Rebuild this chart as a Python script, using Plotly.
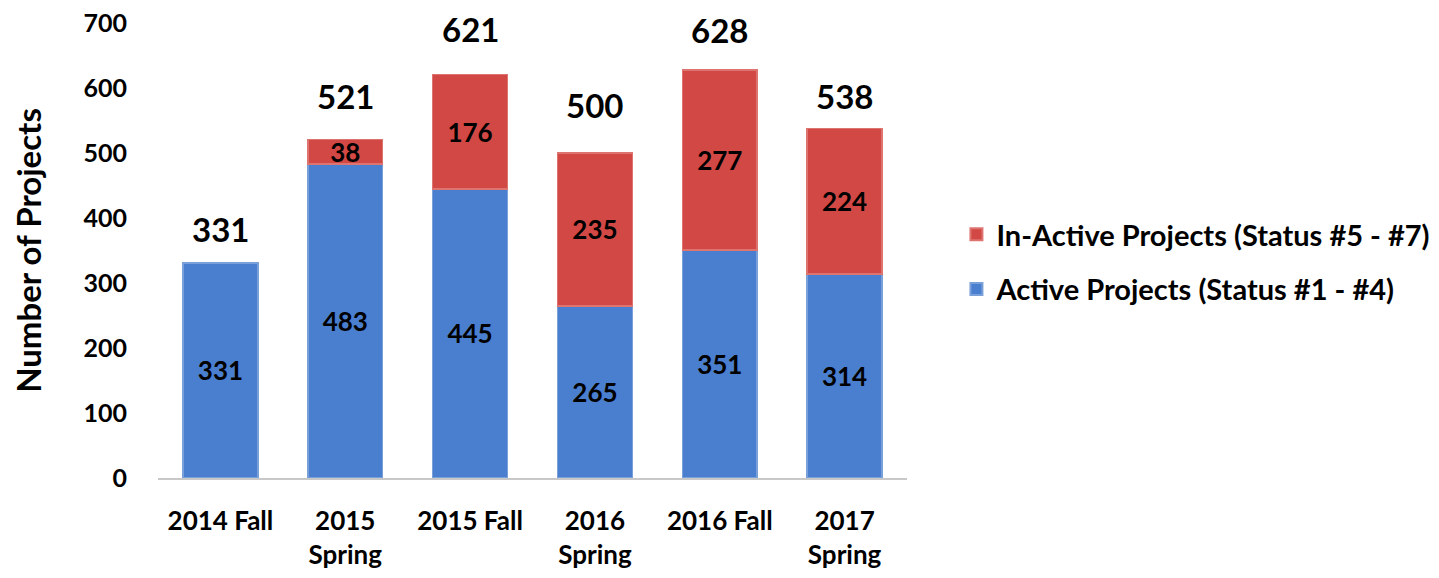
import plotly.graph_objects as go

categories = ["2014 Fall", "2015<br>Spring", "2015 Fall", "2016<br>Spring", "2016 Fall", "2017<br>Spring"]
active = [331, 483, 445, 265, 351, 314]
inactive = [None, 38, 176, 235, 277, 224]
totals = [331, 521, 621, 500, 628, 538]
inactive_text = ["" if v is None else str(v) for v in inactive]

# per-label vertical offsets (px) of the total labels, as in the original
total_shift = [13, 22, 24, 27, 19, 11]

FONT = "Lato"

fig = go.Figure()
fig.add_trace(go.Bar(
    x=categories, y=active, name="Active Projects (Status #1 - #4)",
    legendgroup="a", legendrank=2,
    marker=dict(color="#4A7ECE", line=dict(color="#7AA0DA", width=1.5)),
    text=[str(v) for v in active], textposition="inside", insidetextanchor="middle",
    textangle=0, constraintext="none", cliponaxis=False,
    textfont=dict(family=FONT, size=26, color="black", weight="bold"),
))
fig.add_trace(go.Bar(
    x=categories, y=inactive, name="In-Active Projects (Status #5 - #7)",
    legendgroup="b", legendrank=1,
    marker=dict(color="#D24844", line=dict(color="#DE7470", width=1.5)),
    text=inactive_text, textposition="inside", insidetextanchor="middle",
    textangle=0, constraintext="none", cliponaxis=False,
    textfont=dict(family=FONT, size=26, color="black", weight="bold"),
))

for c, t, s in zip(categories, totals, total_shift):
    fig.add_annotation(x=c, y=t, text=str(t), showarrow=False, yanchor="bottom", yshift=s,
                       borderpad=0,
                       font=dict(family=FONT, size=33, color="black", weight="bold"))

fig.update_layout(
    barmode="stack", bargap=0.4,
    width=1439, height=578,
    margin=dict(l=150, r=540, t=15, b=108, autoexpand=False),
    plot_bgcolor="white", paper_bgcolor="white",
    font=dict(family=FONT, color="black"),
    legend=dict(x=1.066, y=0.475, xanchor="left", yanchor="middle",
                traceorder="grouped",
                font=dict(family=FONT, size=29, color="black", weight="bold"),
                itemsizing="constant", tracegroupgap=14, itemwidth=30),
    yaxis=dict(range=[0, 700], dtick=100, showgrid=False, zeroline=False, showline=False,
               automargin=False, ticklabeloverflow="allow",
               tickfont=dict(family=FONT, size=25, color="black", weight="bold"),
               ticklabelstandoff=30,
               title=dict(text="Number of Projects", standoff=37,
                          font=dict(family=FONT, size=33, color="black", weight="bold"))),
    xaxis=dict(showline=True, linecolor="#C8C8C8", linewidth=2, showgrid=False,
               automargin=False,
               tickfont=dict(family=FONT, size=26, color="black", weight="bold"),
               ticklabelstandoff=19),
)

fig.write_html("out.html")
